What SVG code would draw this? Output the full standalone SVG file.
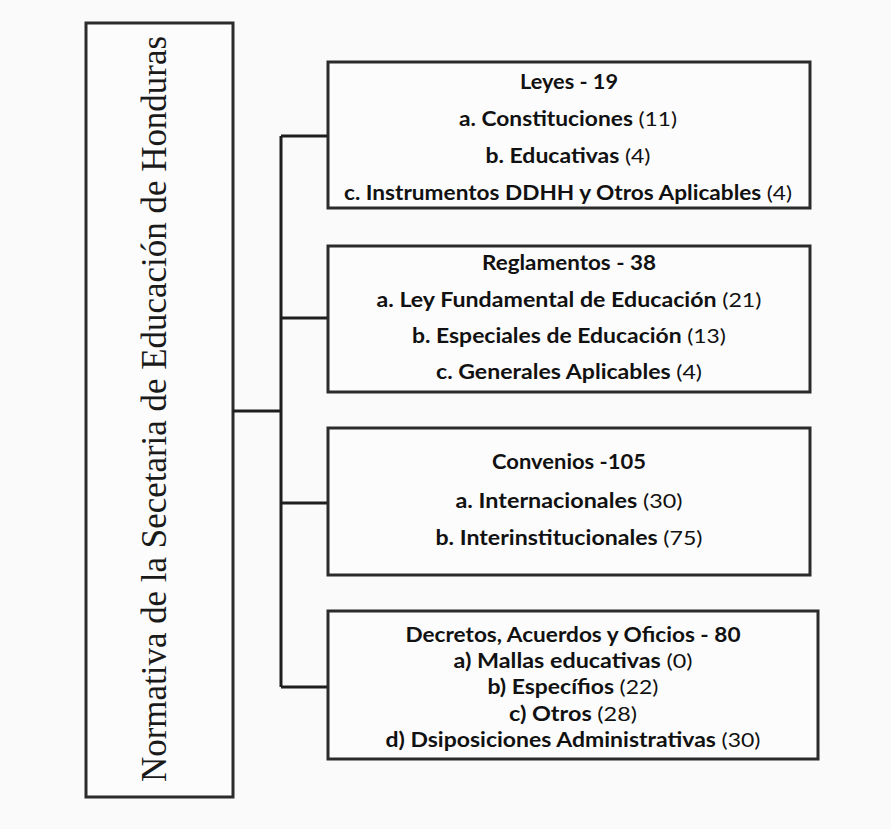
<svg xmlns="http://www.w3.org/2000/svg" width="891" height="829" viewBox="0 0 891 829">
<style>
.box{fill:#fcfcfc;stroke:#2b2b2b;stroke-width:3}
.con{fill:none;stroke:#1e1e1e;stroke-width:3}
.t{font-family:Lato,"Open Sans","Liberation Sans",sans-serif;font-size:20px;font-weight:bold;fill:#111;text-anchor:middle}
.n{font-weight:normal}
.title{font-family:"Liberation Serif","DejaVu Serif",serif;font-size:35px;fill:#1a1a1a;text-anchor:middle}
</style>
<rect width="891" height="829" fill="#fafafa"/>
<g id="main">
<rect class="box" x="86" y="23" width="147" height="774"/>
<text class="title" transform="translate(166,409) rotate(-90)" x="0" y="0" textLength="746" lengthAdjust="spacingAndGlyphs">Normativa de la Secetaria de Educación de Honduras</text>
</g>
<g id="connectors">
<path class="con" d="M233 411 H281"/>
<path class="con" d="M281 136 V687"/>
<path class="con" d="M281 136 H328 M281 318 H328 M281 503 H328 M281 687 H328"/>
</g>
<g id="leyes">
<rect class="box" x="328" y="62" width="482" height="146"/>
<text class="t" x="569" y="89" textLength="98" lengthAdjust="spacingAndGlyphs">Leyes - 19</text>
<text class="t" x="568" y="126" textLength="218" lengthAdjust="spacingAndGlyphs">a. Constituciones <tspan class="n">(11)</tspan></text>
<text class="t" x="568" y="163" textLength="165" lengthAdjust="spacingAndGlyphs">b. Educativas <tspan class="n">(4)</tspan></text>
<text class="t" x="568" y="200" textLength="448" lengthAdjust="spacingAndGlyphs">c. Instrumentos DDHH y Otros Aplicables <tspan class="n">(4)</tspan></text>
</g>
<g id="reglamentos">
<rect class="box" x="328" y="246" width="482" height="146"/>
<text class="t" x="569" y="270" textLength="174" lengthAdjust="spacingAndGlyphs">Reglamentos - 38</text>
<text class="t" x="569" y="307" textLength="385" lengthAdjust="spacingAndGlyphs">a. Ley Fundamental de Educación <tspan class="n">(21)</tspan></text>
<text class="t" x="569" y="343" textLength="314" lengthAdjust="spacingAndGlyphs">b. Especiales de Educación <tspan class="n">(13)</tspan></text>
<text class="t" x="569" y="379" textLength="266" lengthAdjust="spacingAndGlyphs">c. Generales Aplicables <tspan class="n">(4)</tspan></text>
</g>
<g id="convenios">
<rect class="box" x="328" y="428" width="482" height="147"/>
<text class="t" x="569" y="469" textLength="154" lengthAdjust="spacingAndGlyphs">Convenios -105</text>
<text class="t" x="569" y="508" textLength="227" lengthAdjust="spacingAndGlyphs">a. Internacionales <tspan class="n">(30)</tspan></text>
<text class="t" x="569" y="545" textLength="267" lengthAdjust="spacingAndGlyphs">b. Interinstitucionales <tspan class="n">(75)</tspan></text>
</g>
<g id="decretos">
<rect class="box" x="328" y="611" width="490" height="148"/>
<text class="t" x="573" y="642" textLength="335" lengthAdjust="spacingAndGlyphs">Decretos, Acuerdos y Oficios - 80</text>
<text class="t" x="573" y="668" textLength="239" lengthAdjust="spacingAndGlyphs">a) Mallas educativas <tspan class="n">(0)</tspan></text>
<text class="t" x="573" y="694" textLength="171" lengthAdjust="spacingAndGlyphs">b) Específios <tspan class="n">(22)</tspan></text>
<text class="t" x="573" y="721" textLength="128" lengthAdjust="spacingAndGlyphs">c) Otros <tspan class="n">(28)</tspan></text>
<text class="t" x="573" y="747" textLength="375" lengthAdjust="spacingAndGlyphs">d) Dsiposiciones Administrativas <tspan class="n">(30)</tspan></text>
</g>
</svg>
